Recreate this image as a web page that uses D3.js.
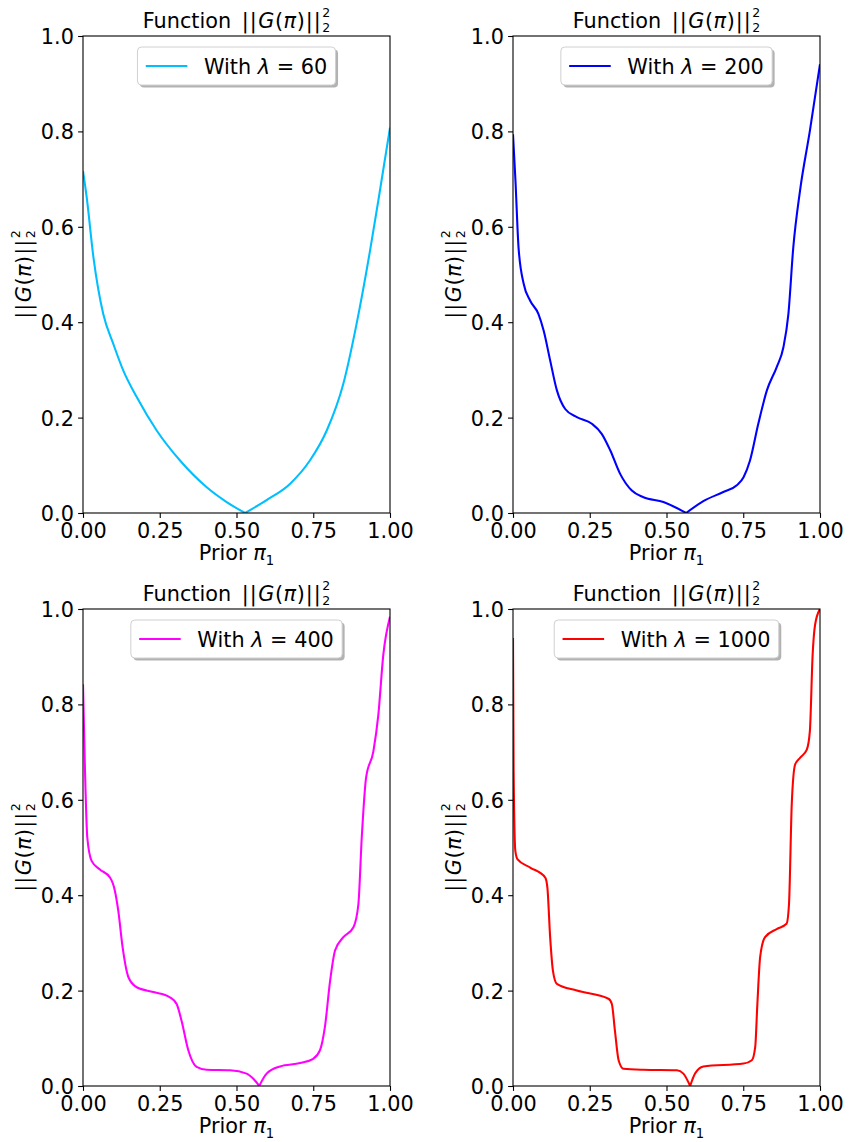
<!DOCTYPE html>
<html>
<head>
<meta charset="utf-8">
<script src="https://cdn.jsdelivr.net/npm/d3@7"></script>
<style>
  html, body { margin: 0; padding: 0; background: #fff; }
  svg { display: block; }
  text { font-family: "DejaVu Sans", sans-serif; fill: #000; }
</style>
</head>
<body>
<svg id="chart" width="849" height="1142"></svg>
<script>
// ---------------- data ----------------
const xTicks = [0, 0.25, 0.5, 0.75, 1.0];
const xTickLabels = ["0.00", "0.25", "0.50", "0.75", "1.00"];
const yTicks = [0, 0.2, 0.4, 0.6, 0.8, 1.0];
const yTickLabels = ["0.0", "0.2", "0.4", "0.6", "0.8", "1.0"];
const lambdas = [60, 200, 400, 1000];
const colors = ["#00bfff", "#0000ff", "#ff00ff", "#ff0000"];

const x60 = [0, 0.012, 0.034, 0.066, 0.099, 0.131, 0.175, 0.240, 0.316, 0.403, 0.468, 0.528, 0.598, 0.674, 0.739, 0.794, 0.848, 0.891, 0.935, 0.967, 1.0];
const y60 = [0.717, 0.662, 0.536, 0.417, 0.354, 0.299, 0.243, 0.173, 0.110, 0.054, 0.023, 0.0, 0.027, 0.061, 0.110, 0.173, 0.271, 0.396, 0.550, 0.675, 0.808];

const x200 = [0, 0.008, 0.018, 0.035, 0.056, 0.083, 0.100, 0.121, 0.143, 0.170, 0.208, 0.257, 0.289, 0.317, 0.349, 0.387, 0.425, 0.490, 0.564, 0.620, 0.685, 0.729, 0.751, 0.772, 0.799, 0.827, 0.859, 0.881, 0.897, 0.913, 0.935, 0.967, 1.0];
const y200 = [0.794, 0.697, 0.557, 0.480, 0.445, 0.417, 0.382, 0.320, 0.257, 0.218, 0.201, 0.187, 0.166, 0.131, 0.082, 0.047, 0.033, 0.023, 0.0, 0.025, 0.044, 0.058, 0.075, 0.110, 0.187, 0.257, 0.306, 0.348, 0.417, 0.557, 0.676, 0.801, 0.941];

const x400 = [0, 0.0065, 0.014, 0.028, 0.055, 0.088, 0.104, 0.115, 0.129, 0.148, 0.175, 0.229, 0.283, 0.305, 0.321, 0.343, 0.370, 0.403, 0.479, 0.533, 0.555, 0.574, 0.598, 0.642, 0.707, 0.750, 0.772, 0.788, 0.805, 0.821, 0.848, 0.881, 0.897, 0.908, 0.922, 0.946, 0.962, 0.978, 1.0];
const y400 = [0.842, 0.661, 0.521, 0.472, 0.454, 0.437, 0.409, 0.367, 0.291, 0.228, 0.207, 0.197, 0.186, 0.172, 0.137, 0.075, 0.040, 0.034, 0.033, 0.026, 0.015, 0.0, 0.026, 0.041, 0.048, 0.057, 0.075, 0.124, 0.221, 0.284, 0.312, 0.333, 0.381, 0.521, 0.646, 0.702, 0.778, 0.903, 0.984];

const x1000 = [0, 0.002, 0.0076, 0.015, 0.056, 0.105, 0.112, 0.121, 0.130, 0.143, 0.208, 0.311, 0.322, 0.332, 0.344, 0.360, 0.425, 0.534, 0.555, 0.577, 0.593, 0.620, 0.751, 0.778, 0.789, 0.796, 0.805, 0.821, 0.859, 0.891, 0.899, 0.908, 0.919, 0.935, 0.957, 0.967, 0.976, 0.984, 1.0];
const y1000 = [0.939, 0.661, 0.493, 0.475, 0.458, 0.437, 0.416, 0.312, 0.242, 0.214, 0.200, 0.183, 0.172, 0.116, 0.054, 0.036, 0.034, 0.033, 0.026, 0.0, 0.026, 0.041, 0.047, 0.054, 0.082, 0.172, 0.270, 0.312, 0.329, 0.340, 0.381, 0.591, 0.674, 0.688, 0.705, 0.744, 0.904, 0.967, 1.0];

const seriesX = [x60, x200, x400, x1000];
const seriesY = [y60, y200, y400, y1000];

// ---------------- layout ----------------
const FS = 20.8;       // main font size
const SFS = 12.5;      // script font size
const panelW = 307, panelH = 477;
const panels = [
  { left: 83,  top: 36 },
  { left: 513, top: 36 },
  { left: 83,  top: 609 },
  { left: 513, top: 609 }
];

const svg = d3.select("#chart");

// helper: builds "||G(π)||" with stacked ^2 _2 at baseline 0; returns total width
function normMath(g, prefix) {
  const t = g.append("text").attr("x", 0).attr("y", 0).style("font-size", FS + "px");
  if (prefix) t.append("tspan").text(prefix);
  t.append("tspan").attr("dx", prefix ? 4 : 0).text("|");
  t.append("tspan").attr("dx", 1).text("|");
  t.append("tspan").attr("dx", 1.5).style("font-style", "italic").text("G");
  t.append("tspan").attr("dx", 0.5).text("(");
  t.append("tspan").attr("dx", 0.5).style("font-style", "italic").text("π");
  t.append("tspan").attr("dx", 0.5).text(")");
  t.append("tspan").attr("dx", 1).text("|");
  t.append("tspan").attr("dx", 1).text("|");
  const bb = t.node().getBBox();
  const w = bb.x + bb.width;
  const sx = w + 1.5;
  g.append("text").attr("x", sx).attr("y", -11.4).style("font-size", SFS + "px").text("2");
  const sub = g.append("text").attr("x", sx).attr("y", 3.6).style("font-size", SFS + "px").text("2");
  return sx + sub.node().getComputedTextLength();
}

panels.forEach((p, i) => {
  const g = svg.append("g").attr("transform", `translate(${p.left},${p.top})`);
  const x = d3.scaleLinear().domain([0, 1]).range([0, panelW]);
  const y = d3.scaleLinear().domain([0, 1]).range([panelH, 0]);

  // clip
  const clipId = "clip" + i;
  g.append("clipPath").attr("id", clipId)
    .append("rect").attr("x", 0).attr("y", 0).attr("width", panelW).attr("height", panelH);

  // data line (split at minimum so the cusp stays sharp)
  const data = seriesX[i].map((xv, k) => ({ x: xv, y: seriesY[i][k] }));
  let imin = 0;
  data.forEach((d, k) => { if (d.y < data[imin].y) imin = k; });
  const line = d3.line().x(d => x(d.x)).y(d => y(d.y)).curve(d3.curveMonotoneX);
  const lg = g.append("g").attr("clip-path", `url(#${clipId})`);
  [data.slice(0, imin + 1), data.slice(imin)].forEach(part => {
    lg.append("path").attr("d", line(part))
      .attr("fill", "none").attr("stroke", colors[i]).attr("stroke-width", 2.08)
      .attr("stroke-linejoin", "round").attr("stroke-linecap", "butt");
  });

  // axes
  const xAxis = d3.axisBottom(x).tickValues(xTicks).tickFormat((d, k) => xTickLabels[k])
    .tickSize(4.9).tickPadding(4.2);
  const yAxis = d3.axisLeft(y).tickValues(yTicks).tickFormat((d, k) => yTickLabels[k])
    .tickSize(4.9).tickPadding(4.2);
  const gx = g.append("g").attr("transform", `translate(0,${panelH})`).call(xAxis);
  const gy = g.append("g").call(yAxis);
  [gx, gy].forEach(a => {
    a.select(".domain").remove();
    a.selectAll(".tick line").attr("stroke", "#000").attr("stroke-width", 1.1);
    a.selectAll(".tick text").style("font-size", FS + "px").style("font-family", "DejaVu Sans").attr("fill", "#000");
  });
  gy.selectAll(".tick text").attr("dy", "0.36em");
  gx.selectAll(".tick text").attr("dy", "0.76em");

  // spines
  g.append("rect").attr("x", 0).attr("y", 0).attr("width", panelW).attr("height", panelH)
    .attr("fill", "none").attr("stroke", "#000").attr("stroke-width", 1.1);

  // title
  const tg = g.append("g");
  const tw = normMath(tg, "Function ");
  tg.attr("transform", `translate(${panelW / 2 - tw / 2},${-7.7})`);

  // y label
  const yg = g.append("g");
  const yw = normMath(yg, null);
  yg.attr("transform", `translate(${-52},${panelH / 2 + yw / 2}) rotate(-90)`);

  // x label
  const xl = g.append("text").attr("y", panelH + 47).style("font-size", FS + "px");
  xl.append("tspan").text("Prior ");
  xl.append("tspan").style("font-style", "italic").text("π");
  xl.append("tspan").attr("dy", 4.5).style("font-size", "13.2px").text("1");
  const xlw = xl.node().getComputedTextLength();
  xl.attr("x", panelW / 2 - xlw / 2);

  // legend
  const leg = g.append("g");
  const lt = leg.append("text").style("font-size", FS + "px");
  lt.append("tspan").text("With ");
  lt.append("tspan").style("font-style", "italic").text("λ");
  lt.append("tspan").text(" = " + lambdas[i]);
  const ltw = lt.node().getComputedTextLength();
  const pad = 8.3, hl = 41.6, htp = 16.6;
  const bw = pad + hl + htp + ltw + pad;
  const bh = 38;
  const bx = panelW / 2 - bw / 2, by = 11;
  leg.insert("rect", "text").attr("x", bx + 2.5).attr("y", by + 2.5).attr("width", bw).attr("height", bh)
    .attr("rx", 4).attr("fill", "#000").attr("fill-opacity", 0.3);
  leg.insert("rect", "text").attr("x", bx).attr("y", by).attr("width", bw).attr("height", bh)
    .attr("rx", 4).attr("fill", "#fff").attr("stroke", "#d0d0d0").attr("stroke-width", 1);
  leg.append("line").attr("x1", bx + pad).attr("x2", bx + pad + hl)
    .attr("y1", by + bh / 2).attr("y2", by + bh / 2)
    .attr("stroke", colors[i]).attr("stroke-width", 2.08);
  lt.attr("x", bx + pad + hl + htp).attr("y", by + bh / 2 + 7.5);
});
</script>
</body>
</html>
